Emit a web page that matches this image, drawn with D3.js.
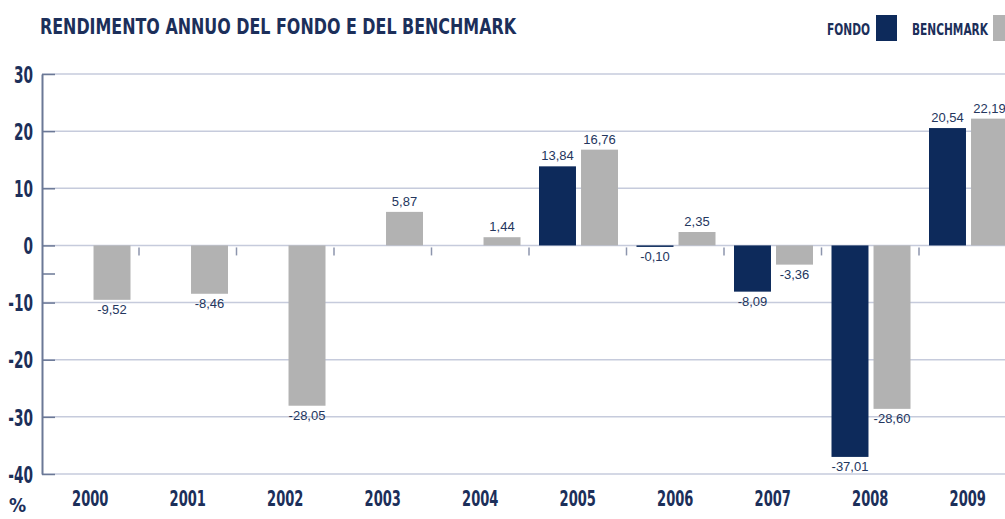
<!DOCTYPE html>
<html>
<head>
<meta charset="utf-8">
<script src="https://cdn.jsdelivr.net/npm/d3@7"></script>
<style>
  body { margin: 0; background: #fff; }
  svg { display: block; }
</style>
</head>
<body>
<svg width="1005" height="519"></svg>
<script>
var years = ["2000", "2001", "2002", "2003", "2004", "2005", "2006", "2007", "2008", "2009"];
var fondo = [null, null, null, null, null, 13.84, -0.10, -8.09, -37.01, 20.54];
var benchmark = [-9.52, -8.46, -28.05, 5.87, 1.44, 16.76, 2.35, -3.36, -28.60, 22.19];
var yTicks = [30, 20, 10, 0, -10, -20, -30, -40];
var minorTicks = [-5];
var seriesNames = ["FONDO", "BENCHMARK"];

var navy = "#0d2a5b", grey = "#b2b2b2", textCol = "#1c2f5a";
var narrow = "'Liberation Sans Narrow', 'DejaVu Sans Condensed', sans-serif";

var svg = d3.select("svg");

var x0 = d3.scaleBand().domain(years).range([41.5, 1016.5]).padding(0);
var x1 = d3.scaleBand().domain(["fondo", "benchmark"]).range([10, 89]).paddingInner(0.12);
var y = d3.scaleLinear().domain([-40, 30]).range([474, 74]);

var it = d3.formatLocale({decimal: ",", thousands: ".", grouping: [3], currency: ["", "€"], minus: "-"});
var fmt = it.format(".2f");

function squeeze(sel, k) {
  sel.each(function() {
    var w = this.getComputedTextLength();
    d3.select(this).attr("textLength", w * k).attr("lengthAdjust", "spacingAndGlyphs");
  });
}

// title
svg.append("text")
    .attr("x", 40).attr("y", 34)
    .attr("font-family", narrow).attr("font-weight", "bold").attr("font-size", 22)
    .attr("fill", textCol)
    .attr("textLength", 476).attr("lengthAdjust", "spacingAndGlyphs")
    .text("RENDIMENTO ANNUO DEL FONDO E DEL BENCHMARK");

// legend
var legend = [
  {name: seriesNames[0], color: navy, tx: 870, w: 43, bx: 876},
  {name: seriesNames[1], color: grey, tx: 988, w: 76, bx: 993}
];
legend.forEach(function(l) {
  svg.append("text")
      .attr("x", l.tx - l.w).attr("y", 35)
      .attr("font-family", narrow).attr("font-weight", "bold").attr("font-size", 16)
      .attr("fill", textCol)
      .attr("textLength", l.w).attr("lengthAdjust", "spacingAndGlyphs")
      .text(l.name);
  svg.append("rect")
      .attr("x", l.bx).attr("y", 15).attr("width", 21).attr("height", 26)
      .attr("fill", l.color);
});

// gridlines
svg.append("g").selectAll("line")
  .data(yTicks)
  .enter().append("line")
    .attr("x1", 42).attr("x2", 1005)
    .attr("y1", function(d) { return y(d); })
    .attr("y2", function(d) { return y(d); })
    .attr("stroke", "#c6cbdc").attr("stroke-width", 1.5);

// category separators on the zero line
svg.append("g").selectAll("line")
  .data(years.slice(1))
  .enter().append("line")
    .attr("x1", function(d) { return x0(d); })
    .attr("x2", function(d) { return x0(d); })
    .attr("y1", y(0) + 2).attr("y2", y(0) + 10)
    .attr("stroke", "#8c95ad").attr("stroke-width", 1.5);

// y axis
var yAxis = svg.append("g")
    .attr("transform", "translate(42,0)")
    .call(d3.axisLeft(y).tickValues(yTicks).tickFormat(it.format("d"))
      .tickSizeInner(-13).tickSizeOuter(0).tickPadding(9));
yAxis.select(".domain").attr("stroke", "#6b7896").attr("stroke-width", 2);
yAxis.selectAll(".tick line").attr("stroke", "#6b7896").attr("stroke-width", 1.5);
yAxis.selectAll(".tick text")
    .attr("font-family", narrow).attr("font-weight", "bold").attr("font-size", 23).attr("fill", textCol)
    .attr("dy", "0.36em")
    .call(squeeze, 0.66);
svg.append("g").selectAll("line")
  .data(minorTicks)
  .enter().append("line")
    .attr("x1", 42).attr("x2", 55)
    .attr("y1", function(d) { return y(d); })
    .attr("y2", function(d) { return y(d); })
    .attr("stroke", "#6b7896").attr("stroke-width", 1.5);

// year labels
svg.append("g").selectAll("text")
  .data(years)
  .enter().append("text")
    .attr("x", function(d) { return x0(d) + x0.bandwidth() / 2; })
    .attr("y", 506)
    .attr("text-anchor", "middle")
    .attr("font-family", narrow).attr("font-weight", "bold").attr("font-size", 22).attr("fill", textCol)
    .text(function(d) { return d; })
    .call(squeeze, 0.66);

svg.append("text")
    .attr("x", 9).attr("y", 512)
    .attr("font-family", narrow).attr("font-weight", "bold").attr("font-size", 19).attr("fill", textCol)
    .text("%");

// bars
var rows = [];
years.forEach(function(yr, i) {
  if (fondo[i] != null) rows.push({year: yr, key: "fondo", value: fondo[i]});
  rows.push({year: yr, key: "benchmark", value: benchmark[i]});
});

var bar = svg.append("g").selectAll("g")
  .data(rows)
  .enter().append("g")
    .attr("transform", function(d) { return "translate(" + (x0(d.year) + x1(d.key)) + ",0)"; });

bar.append("rect")
    .attr("width", x1.bandwidth())
    .attr("y", function(d) { return y(Math.max(0, d.value)); })
    .attr("height", function(d) { return Math.max(1.5, Math.abs(y(d.value) - y(0))); })
    .attr("fill", function(d) { return d.key == "fondo" ? navy : grey; });

bar.append("text")
    .attr("x", x1.bandwidth() / 2)
    .attr("y", function(d) { return d.value >= 0 ? y(d.value) - 6 : Math.max(y(d.value), y(0) + 1.5) + 14; })
    .attr("text-anchor", "middle")
    .attr("font-family", "'Liberation Sans', Arial, sans-serif").attr("font-size", 13)
    .attr("fill", "#24365e")
    .text(function(d) { return fmt(d.value); });
</script>
</body>
</html>
